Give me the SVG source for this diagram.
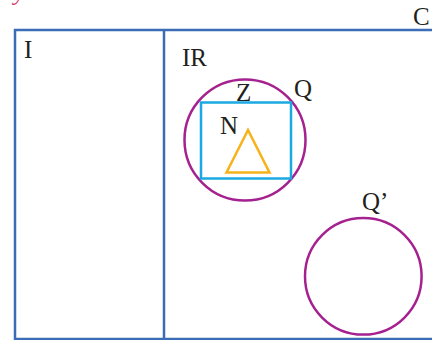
<svg xmlns="http://www.w3.org/2000/svg" width="432" height="340" viewBox="0 0 432 340">
<style>
text{font-family:"Liberation Serif","DejaVu Serif",serif;font-size:25px;fill:#231f20}
.set{fill:none;stroke:#3b6db6;stroke-width:2.5}
.mag{fill:none;stroke:#a5218f;stroke-width:2.5}
</style>
<rect width="432" height="340" fill="#fff"/>
<text x="14" y="0" style="fill:#d6336c;font-style:italic;font-size:24px">you see in this set.</text>
<text x="413" y="25">C</text>
<g id="universe">
<rect class="set" x="15" y="30" width="430" height="309"/>
<line class="set" x1="164" y1="30" x2="164" y2="339"/>
</g>
<g id="I"><text x="24" y="58">I</text></g>
<g id="IR"><text x="182" y="66">IR</text></g>
<g id="Q">
<circle class="mag" cx="245" cy="140" r="60.5"/>
<text x="294" y="97">Q</text>
</g>
<g id="Z">
<rect x="201" y="102.5" width="90" height="76" fill="none" stroke="#1ba9e1" stroke-width="2.5"/>
<text x="236" y="101">Z</text>
</g>
<g id="N">
<polygon points="248,130 226.5,172.5 269.5,172.5" fill="none" stroke="#f7b219" stroke-width="2.5" stroke-linejoin="miter"/>
<text x="220" y="134">N</text>
</g>
<g id="Qprime">
<circle class="mag" cx="363.3" cy="276.3" r="58.3"/>
<text x="362" y="210">Q’</text>
</g>
</svg>
